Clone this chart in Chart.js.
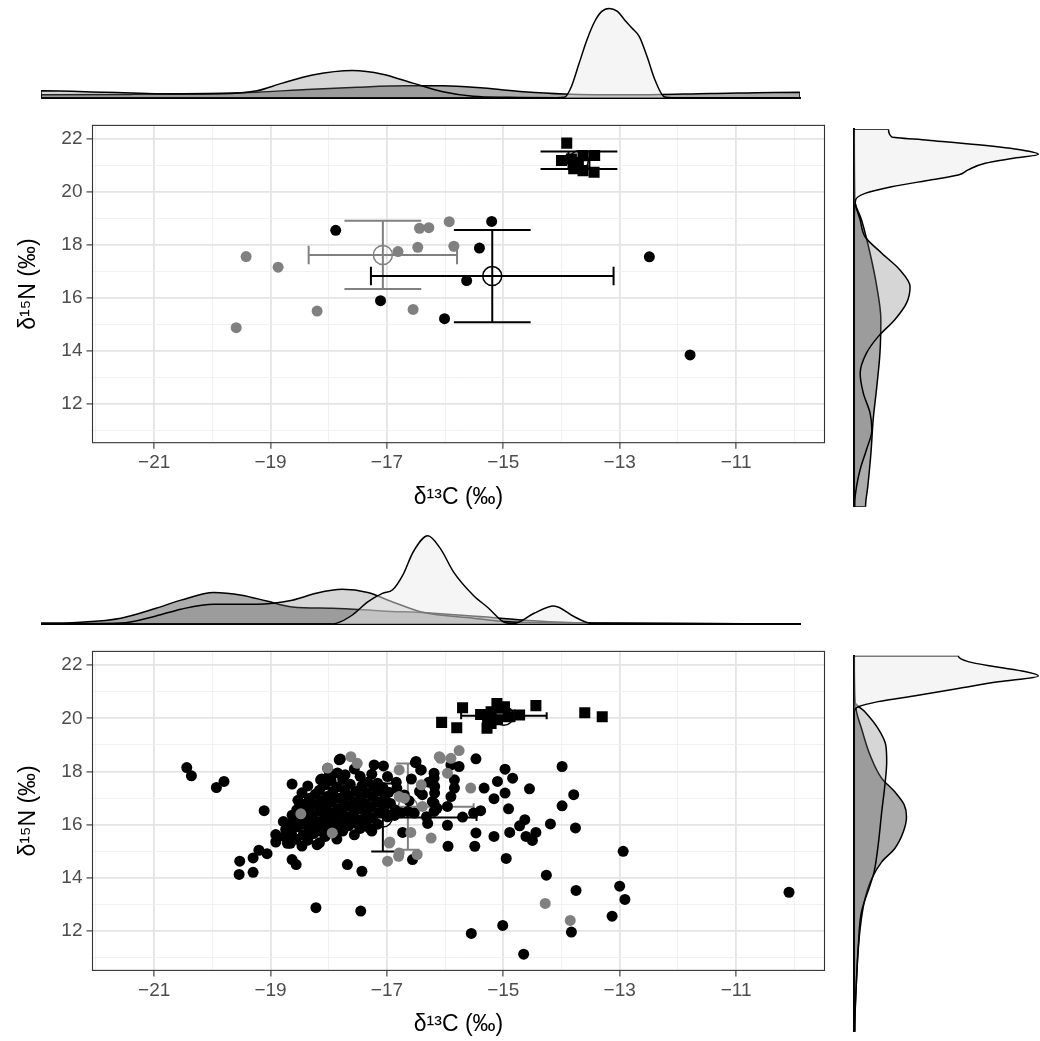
<!DOCTYPE html>
<html>
<head>
<meta charset="UTF-8">
<title>δ13C / δ15N</title>
<script src="https://cdn.jsdelivr.net/npm/chart.js@4.4.1/dist/chart.umd.min.js"></script>
<style>
  body { margin: 0; background: #fff; }
  #page { position: relative; width: 1040px; height: 1041px; }
  canvas { position: absolute; }
</style>
</head>
<body>
<div id="page">
  <canvas id="topDens" width="760" height="100" style="left:41px;top:0px"></canvas>
  <canvas id="topScatter" width="840" height="403" style="left:0px;top:110px"></canvas>
  <canvas id="topSide" width="188" height="382" style="left:852px;top:127px"></canvas>
  <canvas id="botDens" width="760" height="101" style="left:41px;top:525px"></canvas>
  <canvas id="botScatter" width="840" height="404" style="left:0px;top:636px"></canvas>
  <canvas id="botSide" width="188" height="381" style="left:852px;top:653px"></canvas>
</div>
<script>
// ---- top panel: points (d13C, d15N) ----
var topBlackC13 = [-17.88, -15.20, -15.41, -12.49, -15.63, -17.11, -16.01, -11.79];
var topBlackN15 = [18.55, 18.89, 17.88, 17.55, 16.65, 15.89, 15.21, 13.84];
var topGrayC13 = [-19.42, -18.87, -18.20, -19.59, -16.81, -16.47, -16.44, -16.28, -15.93, -15.85, -16.55];
var topGrayN15 = [17.56, 17.16, 15.50, 14.87, 17.75, 17.91, 18.63, 18.65, 18.88, 17.95, 15.56];
var topSqC13 = [-13.91, -14.00, -13.83, -13.63, -13.43, -13.79, -13.63, -13.44, -13.71];
var topSqN15 = [21.85, 21.19, 21.25, 21.38, 21.38, 20.88, 20.81, 20.75, 21.13];
// group means and sd: black circles, grey circles, squares
var topMeanC13 = [-15.19, -17.07, -13.70];
var topMeanN15 = [16.82, 17.62, 21.20];
var topSdC13 = [2.085, 1.275, 0.18];
var topSdN15 = [1.74, 1.29, 0.33];

// ---- bottom panel: points [d13C, d15N] ----
var botBlackPts = [
  [-20.44,18.15],[-20.36,17.84],[-19.93,17.40],[-19.80,17.63],[-19.11,16.53],
  [-19.53,14.63],[-19.54,14.13],[-19.30,14.75],[-19.30,14.21],[-19.20,15.04],[-19.06,14.91],
  [-18.91,15.63],[-18.91,15.35],[-18.71,15.30],[-18.63,17.53],[-18.63,14.69],[-18.56,14.50],
  [-18.22,12.88],[-17.45,12.75],[-17.68,14.50],[-17.43,14.25],
  [-17.82,18.44],[-18.14,17.69],[-17.22,18.25],[-17.06,18.21],[-16.99,17.81],
  [-16.50,18.38],[-16.41,18.06],[-16.73,15.71],[-16.56,14.69],[-15.95,15.19],
  [-13.99,18.19],[-13.79,17.13],[-13.99,16.71],[-13.76,15.88],[-14.19,16.03],[-14.63,16.19],
  [-14.44,15.71],[-14.50,15.41],[-14.61,15.56],[-14.72,15.96],[-14.89,15.71],[-14.91,16.60],
  [-14.97,17.19],[-15.16,16.98],[-15.10,17.63],[-14.97,18.09],[-14.84,17.75],[-14.55,17.35],
  [-15.33,17.38],[-15.47,18.48],[-15.47,15.69],[-15.49,15.19],[-15.16,15.56],[-14.95,14.73],
  [-14.26,14.10],[-13.75,13.53],[-12.94,15.00],[-13.00,13.69],[-12.91,13.19],[-13.13,12.56],
  [-13.83,11.96],[-15.01,12.21],[-15.55,11.91],[-14.65,11.13],[-10.09,13.46],
  [-15.96,15.98],[-15.70,16.29],[-15.96,16.69],[-16.19,16.50],[-16.19,16.81],[-16.19,17.75],
  [-16.19,17.94],[-15.90,18.25],[-15.76,18.19],[-15.84,17.69],[-15.84,17.38],[-15.90,17.06],
  [-16.51,18.34],[-16.42,18.06],[-16.39,17.13],[-15.51,16.44],[-15.39,16.53],
  [-17.80,18.47],[-17.56,18.10],[-18.02,18.12],[-17.99,17.87],[-17.85,17.95],[-17.72,17.88],
  [-17.16,17.56],[-16.83,17.37],[-16.70,17.12],[-16.18,17.44],[-16.18,17.19],[-16.22,16.87],
  [-16.14,16.62],[-16.44,17.25],[-16.53,16.44],[-16.64,16.50],[-16.76,16.45],[-16.87,16.35],
  [-16.99,16.30],[-17.30,15.87],[-18.20,15.25],
  [-18.76,15.55],[-18.74,15.82],[-18.78,16.12],
  [-18.66,15.30],[-18.64,15.66],[-18.67,16.00],[-18.63,16.36],
  [-18.56,15.45],[-18.54,15.92],[-18.57,16.20],[-18.55,16.56],[-18.53,16.92],
  [-18.46,15.20],[-18.44,15.62],[-18.47,16.02],[-18.45,16.40],[-18.43,16.77],[-18.46,17.20],
  [-18.36,15.42],[-18.34,15.80],[-18.37,16.15],[-18.35,16.62],[-18.33,17.00],[-18.36,17.46],
  [-18.26,15.67],[-18.24,16.02],[-18.27,16.36],[-18.25,16.76],[-18.23,17.15],
  [-18.16,15.32],[-18.14,15.76],[-18.17,16.10],[-18.15,16.52],[-18.13,16.90],[-18.16,17.30],[-18.12,17.72],
  [-18.06,15.56],[-18.04,15.96],[-18.07,16.31],[-18.05,16.66],[-18.03,17.06],[-18.06,17.50],
  [-17.96,15.72],[-17.94,16.10],[-17.97,16.46],[-17.95,16.86],[-17.93,17.25],[-17.96,17.66],
  [-17.86,15.46],[-17.84,15.90],[-17.87,16.26],[-17.85,16.60],[-17.83,17.00],[-17.86,17.42],
  [-17.76,15.76],[-17.74,16.12],[-17.77,16.50],[-17.75,16.90],[-17.73,17.30],[-17.76,17.70],
  [-17.66,15.96],[-17.64,16.30],[-17.67,16.70],[-17.65,17.10],[-17.63,17.52],
  [-17.56,15.62],[-17.54,16.06],[-17.57,16.46],[-17.55,16.86],[-17.53,17.26],
  [-17.46,15.86],[-17.44,16.20],[-17.47,16.60],[-17.45,17.00],[-17.43,17.46],[-17.46,17.82],
  [-17.36,16.06],[-17.34,16.40],[-17.37,16.80],[-17.35,17.20],[-17.33,17.60],
  [-17.26,15.76],[-17.24,16.26],[-17.27,16.66],[-17.25,17.06],[-17.23,17.46],[-17.26,17.90],
  [-17.16,16.02],[-17.14,16.46],[-17.17,16.86],[-17.15,17.26],
  [-17.06,16.62],[-17.04,17.00],[-17.07,17.40],
  [-16.96,16.36],[-16.94,16.80],[-16.97,17.22],
  [-16.86,16.56],[-16.84,17.60],[-16.62,16.90],[-16.58,17.72],
  [-16.32,16.30],[-16.28,17.60],[-16.30,16.05]
];
var botGrayPts = [
  [-17.62,18.56],[-17.51,18.31],[-18.02,18.13],[-17.94,15.69],[-16.96,15.31],[-16.99,14.63],
  [-16.79,14.94],[-16.48,14.88],[-16.59,15.71],[-16.24,15.50],[-16.79,17.06],[-16.41,17.50],
  [-16.39,16.69],[-16.70,17.00],[-16.08,18.50],[-15.90,18.50],[-15.96,17.94],[-15.76,18.79],
  [-15.56,17.38],[-18.48,16.41],[-14.28,13.04],[-13.85,12.40],[-16.80,14.81],[-16.95,15.35],
  [-16.10,18.56],[-16.79,18.06]
];
var botSqPts = [
  [-16.06,19.85],[-15.80,19.65],[-15.70,20.40],[-15.39,20.15],[-15.28,19.63],[-15.27,19.94],
  [-15.21,20.25],[-15.11,20.56],[-15.04,20.38],[-14.98,20.44],[-14.90,20.06],[-14.72,20.13],
  [-14.44,20.48],[-13.60,20.21],[-13.30,20.06],[-15.10,19.95],[-15.21,19.81]
];
var botMeanC13 = [-17.07, -16.64, -14.99];
var botMeanN15 = [16.27, 16.68, 20.10];
var botSdC13 = [1.61, 1.13, 0.735];
var botSdN15 = [1.28, 1.62, 0.20];

// ---- marginal densities along d13C ----
var topDensBlackC13 = [-19.59,-18.67,-17.89,-17.37,-16.86,-16.34,-15.82,-15.46,-15.04,-14.63,-14.21,-13.49,-12.71,-11.79];
var topDensBlack = [0.07,0.08,0.10,0.13,0.19,0.24,0.27,0.27,0.22,0.14,0.09,0.07,0.10,0.13];
var topDensGrayC13 = [-19.59,-18.93,-18.15,-17.63,-17.37,-17.11,-16.80,-16.39,-16.08,-15.77,-15.46,-15.15,-14.78,-14.27,-11.79];
var topDensGray = [0.16,0.13,0.09,0.10,0.16,0.33,0.51,0.61,0.53,0.33,0.14,0.04,0.015,0.007,0.007];
var topDensSqC13 = [-19.59,-14.40,-14.21,-14.14,-14.06,-13.98,-13.90,-13.83,-13.75,-13.67,-13.59,-13.52,-13.44,-13.36,-13.28,-13.18,-13.00,-11.79];
var topDensSq = [0,0,0.015,0.25,0.77,1.29,1.70,1.92,1.99,1.93,1.73,1.56,1.36,0.91,0.40,0.02,0,0];

var botDensBlackC13 = [-20.45,-19.91,-19.36,-18.88,-18.54,-18.09,-17.71,-17.37,-17.02,-16.47,-15.79,-15.10,-14.41,-13.72,-13.03,-10.09];
var botDensBlack = [0.02,0.04,0.13,0.35,0.53,0.70,0.64,0.51,0.38,0.35,0.29,0.24,0.16,0.07,0.02,0];
var botDensGrayC13 = [-20.45,-19.91,-19.36,-18.88,-18.54,-18.09,-17.51,-17.02,-16.68,-16.34,-15.99,-15.65,-15.24,-14.55,-14.07,-13.38,-10.09];
var botDensGray = [0,0.01,0.02,0.18,0.33,0.44,0.44,0.53,0.69,0.77,0.70,0.49,0.26,0.13,0.05,0.02,0];
var botDensSqC13 = [-20.45,-16.54,-16.41,-16.20,-15.99,-15.79,-15.65,-15.51,-15.37,-15.17,-15.00,-14.82,-14.55,-14.34,-14.14,-14.00,-13.72,-13.45,-13.17,-12.97,-12.80,-10.09];
var botDensSq = [0,0,0.02,0.20,0.49,0.68,0.76,1.09,1.60,1.96,1.68,1.16,0.64,0.35,0.05,0.01,0.24,0.40,0.16,0.02,0,0];

// ---- marginal densities along d15N ----
var topSideBlackN15 = [13.84,14.27,14.98,15.69,16.39,17.10,17.81,18.51,19.22,19.93,20.35,21.85];
var topSideBlack = [0.25,0.30,0.37,0.42,0.50,0.57,0.59,0.50,0.35,0.16,0.01,0];
var topSideGrayN15 = [13.84,13.92,14.27,14.63,15.05,15.47,15.83,16.25,16.67,17.10,17.45,17.81,18.16,18.51,18.87,19.22,19.57,19.93,20.35,21.85];
var topSideGray = [0.01,0.01,0.05,0.13,0.27,0.39,0.35,0.20,0.13,0.27,0.53,0.90,1.16,1.24,1.01,0.61,0.24,0.13,0.01,0];
var topSideSqN15 = [13.84,19.93,20.35,20.49,20.63,20.78,20.88,20.99,21.13,21.23,21.32,21.41,21.52,21.62,21.69,21.85];
var topSideSq = [0,0,0.03,0.24,0.83,1.72,2.31,2.53,2.91,3.50,4.09,3.72,2.76,1.64,0.83,0.76];

var botSideBlackN15 = [11.12,12.46,13.73,14.49,14.99,15.41,15.75,16.17,16.55,16.85,17.18,17.52,18.11,18.78,19.20,19.60,20.62];
var botSideBlack = [0.01,0.05,0.13,0.24,0.39,0.61,0.90,1.09,1.16,1.11,0.90,0.61,0.35,0.16,0.05,0.01,0];
var botSideGrayN15 = [11.12,12.46,13.31,14.15,14.82,15.16,15.83,16.68,17.35,17.94,18.36,18.78,19.20,19.46,20.62];
var botSideGray = [0.01,0.05,0.09,0.16,0.35,0.44,0.53,0.61,0.68,0.72,0.70,0.53,0.24,0.01,0];
var botSideSqN15 = [11.12,19.20,19.33,19.46,19.62,19.79,19.96,20.11,20.22,20.34,20.47,20.62];
var botSideSq = [0,0,0.09,0.53,1.42,2.31,3.20,4.09,3.79,3.13,2.53,2.31];

var FONT = "'Liberation Sans', Arial, Helvetica, sans-serif";
var FILL_BLACK = 'rgba(90,90,90,0.5)';
var FILL_GRAY = 'rgba(120,120,120,0.3)';
var FILL_SQ = 'rgba(235,235,235,0.5)';

function zip(xs, ys) {
  var out = [];
  for (var i = 0; i < xs.length; i++) out.push({ x: xs[i], y: ys[i] });
  return out;
}
function pairs(p) {
  return p.map(function (d) { return { x: d[0], y: d[1] }; });
}

// crosshair error bars for one group, caps in data units
function errorBars(mx, my, sx, sy, capX, capY) {
  var gap = { x: null, y: null };
  return [
    { x: mx - sx, y: my }, { x: mx + sx, y: my }, gap,
    { x: mx - sx, y: my - capY }, { x: mx - sx, y: my + capY }, gap,
    { x: mx + sx, y: my - capY }, { x: mx + sx, y: my + capY }, gap,
    { x: mx, y: my - sy }, { x: mx, y: my + sy }, gap,
    { x: mx - capX, y: my - sy }, { x: mx + capX, y: my - sy }, gap,
    { x: mx - capX, y: my + sy }, { x: mx + capX, y: my + sy }
  ];
}

var panelBorder = {
  id: 'panelBorder',
  afterDraw: function (chart) {
    var a = chart.chartArea, c = chart.ctx;
    c.save();
    c.strokeStyle = '#333';
    c.lineWidth = 1.1;
    c.strokeRect(a.left, a.top, a.right - a.left, a.bottom - a.top);
    c.restore();
  }
};

function isMajorX(v) { return Math.abs(Math.round(v)) % 2 === 1; }
function isMajorY(v) { return Math.round(v) % 2 === 0; }

// one tick per whole unit; labels only on the major ones
function wholeTicks(s) {
  var t = [];
  for (var v = Math.ceil(s.min); v <= Math.floor(s.max); v++) t.push({ value: v });
  s.ticks = t;
}

function gridOpts(isMajor) {
  return {
    color: function (c) { return c.tick && isMajor(c.tick.value) ? '#e4e4e4' : '#efefef'; },
    lineWidth: function (c) { return c.tick && isMajor(c.tick.value) ? 1.8 : 0.9; },
    tickColor: function (c) { return c.tick && isMajor(c.tick.value) ? '#333' : 'rgba(0,0,0,0)'; },
    tickLength: 6,
    tickWidth: 1.1
  };
}

function scatterChart(id, padTop, xAxisHeight, points, means, cap) {
  var blackMean = [{ x: means.x[0], y: means.y[0] }, { x: means.x[2], y: means.y[2] }];
  var grayMean = [{ x: means.x[1], y: means.y[1] }];
  var blackBars = errorBars(means.x[0], means.y[0], means.sx[0], means.sy[0], cap.x, cap.y)
    .concat([{ x: null, y: null }])
    .concat(errorBars(means.x[2], means.y[2], means.sx[2], means.sy[2], cap.x, cap.y));
  var grayBars = errorBars(means.x[1], means.y[1], means.sx[1], means.sy[1], cap.x, cap.y);

  new Chart(document.getElementById(id), {
    type: 'scatter',
    data: {
      datasets: [
        { label: 'squares', data: points.sq, pointStyle: 'rect', pointRadius: 7.8,
          backgroundColor: '#000', borderWidth: 0, order: 1 },
        { label: 'grey', data: points.gray, pointRadius: 5.5,
          backgroundColor: '#808080', borderWidth: 0, order: 2 },
        { label: 'black', data: points.black, pointRadius: 5.5,
          backgroundColor: '#000', borderWidth: 0, order: 3 },
        { label: 'mean black', data: blackMean, pointRadius: 9.5, pointBorderWidth: 1.5,
          backgroundColor: 'rgba(0,0,0,0)', borderColor: '#000', order: 4 },
        { label: 'mean grey', data: grayMean, pointRadius: 9.5, pointBorderWidth: 1.5,
          backgroundColor: 'rgba(0,0,0,0)', borderColor: '#808080', order: 4 },
        { label: 'sd black', data: blackBars, showLine: true, spanGaps: false, pointRadius: 0,
          borderColor: '#000', borderWidth: 2, order: 5 },
        { label: 'sd grey', data: grayBars, showLine: true, spanGaps: false, pointRadius: 0,
          borderColor: '#808080', borderWidth: 2, order: 5 }
      ]
    },
    options: {
      responsive: false,
      animation: false,
      events: [],
      layout: { padding: { top: padTop, right: 15.5, left: 0, bottom: 0 } },
      plugins: { legend: { display: false }, tooltip: { enabled: false } },
      scales: {
        x: {
          type: 'linear', min: -22.06, max: -9.48,
          afterBuildTicks: wholeTicks,
          ticks: {
            autoSkip: false, maxRotation: 0,
            color: '#4d4d4d', font: { family: FONT, size: 19 }, padding: 3,
            callback: function (v) { return isMajorX(v) ? '\u2212' + Math.abs(Math.round(v)) : ''; }
          },
          grid: gridOpts(isMajorX),
          border: { display: false },
          title: { display: true, text: 'δ¹³C (‰)', color: '#000',
                   font: { family: FONT, size: 23 }, padding: { top: 0, bottom: 2 } },
          afterFit: function (s) { s.height = xAxisHeight; }
        },
        y: {
          type: 'linear', min: 10.52, max: 22.52,
          afterBuildTicks: wholeTicks,
          ticks: {
            autoSkip: false,
            color: '#4d4d4d', font: { family: FONT, size: 19 }, padding: 4,
            callback: function (v) { return isMajorY(v) ? String(Math.round(v)) : ''; }
          },
          grid: gridOpts(isMajorY),
          border: { display: false },
          title: { display: true, text: 'δ¹⁵N (‰)', color: '#000',
                   font: { family: FONT, size: 23 }, padding: { top: 15, bottom: 0 } },
          afterFit: function (s) { s.width = 92.5; }
        }
      }
    },
    plugins: [panelBorder]
  });
}

function densSet(data, fill) {
  return {
    data: data, fill: 'origin', backgroundColor: fill, borderColor: '#000', borderWidth: 1.5,
    pointRadius: 0, cubicInterpolationMode: 'monotone'
  };
}
// along d13C: close the outline down to the baseline at both ends
function densAlongX(xs, ds) {
  return [{ x: xs[0], y: 0 }].concat(zip(xs, ds)).concat([{ x: xs[xs.length - 1], y: 0 }]);
}
// along d15N: density on x, d15N on y
function densAlongY(ns, ds) {
  return [{ x: 0, y: ns[0] }].concat(zip(ds, ns)).concat([{ x: 0, y: ns[ns.length - 1] }]);
}

function topDensity(id, xMin, xMax, yMax, pad, sets) {
  new Chart(document.getElementById(id), {
    type: 'line',
    data: { datasets: sets },
    options: {
      responsive: false, animation: false, events: [],
      layout: { padding: pad },
      plugins: { legend: { display: false }, tooltip: { enabled: false } },
      scales: {
        x: { type: 'linear', min: xMin, max: xMax,
             ticks: { display: false }, grid: { display: false, drawTicks: false },
             border: { display: true, color: '#000', width: 2 },
             afterFit: function (s) { s.height = 0; } },
        y: { type: 'linear', min: 0, max: yMax, display: false }
      }
    }
  });
}

function sideDensity(id, nMin, nMax, dMax, pad, sets) {
  new Chart(document.getElementById(id), {
    type: 'line',
    data: { datasets: sets },
    options: {
      indexAxis: 'y',
      responsive: false, animation: false, events: [],
      layout: { padding: pad },
      plugins: { legend: { display: false }, tooltip: { enabled: false } },
      scales: {
        y: { type: 'linear', min: nMin, max: nMax, position: 'left',
             ticks: { display: false }, grid: { display: false, drawTicks: false },
             border: { display: true, color: '#000', width: 2 },
             afterFit: function (s) { s.width = 0; } },
        x: { type: 'linear', min: 0, max: dMax, display: false }
      }
    }
  });
}

// ---- top figure ----
topDensity('topDens', -19.59, -11.79, 2.178, { top: 0, right: 1, bottom: 2, left: 0 }, [
  densSet(densAlongX(topDensSqC13, topDensSq), FILL_SQ),
  densSet(densAlongX(topDensGrayC13, topDensGray), FILL_GRAY),
  densSet(densAlongX(topDensBlackC13, topDensBlack), FILL_BLACK)
]);

scatterChart('topScatter', 12.7, 70.3,
  { black: zip(topBlackC13, topBlackN15), gray: zip(topGrayC13, topGrayN15), sq: zip(topSqC13, topSqN15) },
  { x: topMeanC13, y: topMeanN15, sx: topSdC13, sy: topSdN15 },
  { x: 0.66, y: 0.35 });

sideDensity('topSide', 13.84, 21.85, 4.127, { top: 2.3, right: 0, bottom: 2.3, left: 2.3 }, [
  densSet(densAlongY(topSideSqN15, topSideSq), FILL_SQ),
  densSet(densAlongY(topSideGrayN15, topSideGray), FILL_GRAY),
  densSet(densAlongY(topSideBlackN15, topSideBlack), FILL_BLACK)
]);

// ---- bottom figure ----
topDensity('botDens', -20.45, -10.09, 2.2, { top: 0, right: 1, bottom: 2, left: 0 }, [
  densSet(densAlongX(botDensSqC13, botDensSq), FILL_SQ),
  densSet(densAlongX(botDensGrayC13, botDensGray), FILL_GRAY),
  densSet(densAlongX(botDensBlackC13, botDensBlack), FILL_BLACK)
]);

scatterChart('botScatter', 13.4, 69.6,
  { black: pairs(botBlackPts), gray: pairs(botGrayPts), sq: pairs(botSqPts) },
  { x: botMeanC13, y: botMeanN15, sx: botSdC13, sy: botSdN15 },
  { x: 0.2, y: 0.13 });

sideDensity('botSide', 11.12, 20.62, 4.127, { top: 2.7, right: 0, bottom: 2.3, left: 2.3 }, [
  densSet(densAlongY(botSideSqN15, botSideSq), FILL_SQ),
  densSet(densAlongY(botSideGrayN15, botSideGray), FILL_GRAY),
  densSet(densAlongY(botSideBlackN15, botSideBlack), FILL_BLACK)
]);
</script>
</body>
</html>
